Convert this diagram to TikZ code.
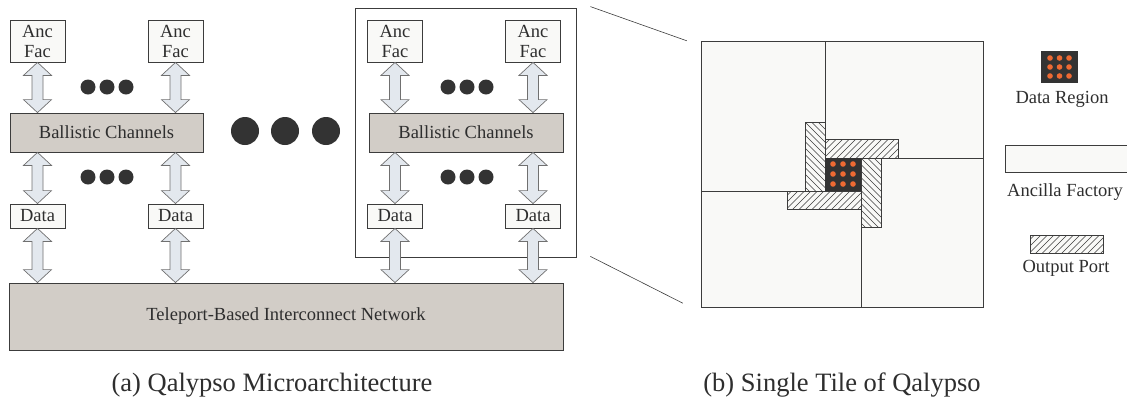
\documentclass[tikz,border=0pt]{standalone}
\usepackage{fontspec}
\setmainfont{Liberation Serif}
\usepackage{tikz}
\usetikzlibrary{calc, positioning}
\tikzset{>=stealth}

\definecolor{boxfill}{HTML}{F9F9F7}
\definecolor{boxline}{HTML}{3C3C3C}
\definecolor{chanfill}{HTML}{D2CDC7}
\definecolor{arrowfill}{HTML}{E3E8EE}
\definecolor{arrowline}{HTML}{707070}
\definecolor{dotcol}{HTML}{333333}
\definecolor{qubitcol}{HTML}{EE6A33}
\definecolor{txtcol}{HTML}{2E2E2E}

% wide two-headed arrow between two anchors (top, bottom)
\newcommand{\dblarrow}[2]{%
  \draw[blockarrow] let \p1=(#1), \p2=(#2) in
    (\x1,\y1) -- (\x1+14pt,\y1-13pt) -- (\x1+5.5pt,\y1-13pt)
    -- (\x1+5.5pt,\y2+13pt) -- (\x1+14pt,\y2+13pt) -- (\x1,\y2)
    -- (\x1-14pt,\y2+13pt) -- (\x1-5.5pt,\y2+13pt)
    -- (\x1-5.5pt,\y1-13pt) -- (\x1-14pt,\y1-13pt) -- cycle;}

% hatched output port: x1, y1, x2, y2, direction (1 = /, -1 = \)
\newcommand{\portbox}[5]{%
  \fill[boxfill] (#1,#2) rectangle (#3,#4);
  \begin{scope}
    \clip (#1,#2) rectangle (#3,#4);
    \foreach \k in {0,...,50}
      \draw[hatch] ({#1-130+6.5*\k},{(#2+#4)/2+#5*80}) -- ++(160,{-#5*160});
  \end{scope}
  \draw[factory, fill=none] (#1,#2) rectangle (#3,#4);}

\begin{document}
\begin{tikzpicture}[x=1pt, y=-1pt,
    label font/.style={font=\fontsize{18.5}{20}\selectfont, text=txtcol},
    unit/.style={label font, draw=boxline, fill=boxfill, line width=0.8pt,
        minimum width=55, inner sep=0, align=center},
    ancfac/.style={unit, minimum height=42},
    datablk/.style={unit, minimum height=24},
    channel/.style={unit, fill=chanfill},
    blockarrow/.style={draw=arrowline, fill=arrowfill, line width=0.7pt},
    factory/.style={draw=boxline, fill=boxfill, line width=0.8pt},
    hatch/.style={draw=boxline, line width=0.6pt},
    caption/.style={font=\fontsize{26.5}{28}\selectfont, text=txtcol}]
    \useasboundingbox (0,0) rectangle (1127,400);

    % (a) microarchitecture
    \node[draw=boxline, line width=0.8pt, minimum width=221, minimum height=249,
        inner sep=0] (group) at (465.5,132.5) {};

    \node[ancfac] (af1) at (37.5,41) {Anc\\Fac};
    \node[ancfac] (af2) at (175.5,41) {Anc\\Fac};
    \node[ancfac] (af3) at (395,41) {Anc\\Fac};
    \node[ancfac] (af4) at (533,41) {Anc\\Fac};

    \node[channel, minimum width=193, minimum height=39] (bc1) at (106.5,132.5) {Ballistic Channels};
    \node[channel, minimum width=194, minimum height=39] (bc2) at (466,132.5) {Ballistic Channels};

    \node[datablk] (d1) at (37.5,216) {Data};
    \node[datablk] (d2) at (175.5,216) {Data};
    \node[datablk] (d3) at (395,216) {Data};
    \node[datablk] (d4) at (533,216) {Data};

    \node[channel, minimum width=554, minimum height=67] (net) at (286,316.5)
        {Teleport-Based Interconnect Network};

    \foreach \i/\b in {1/bc1,2/bc1,3/bc2,4/bc2}
    {
        \dblarrow{af\i.south}{af\i.south |- \b.north}
        \dblarrow{d\i.north |- \b.south}{d\i.north}
        \dblarrow{d\i.south}{d\i.south |- net.north}
    }

    \foreach \x in {88,107,126,448,467,486}
    {
        \fill[dotcol](\x,87) circle (7.5pt);
        \fill[dotcol](\x,177) circle (7.5pt);
    }
    \foreach \x in {245,285,326}
    {
        \fill[dotcol](\x,131) circle (14pt);
    }

    \node[caption] (capa) at (272,385) {(a) Qalypso Microarchitecture};

    % (b) single tile
    \node[minimum width=282, minimum height=266, inner sep=0] (tile) at (842,174) {};
    \draw[factory] (701,41) rectangle (825,191);
    \draw[factory] (825,41) rectangle (983,158);
    \draw[factory] (861,158) rectangle (983,307);
    \draw[factory] (701,191) rectangle (861,307);
    \portbox{805}{122}{825}{191}{-1}
    \portbox{825}{139}{898}{158}{1}
    \portbox{787}{191}{861}{209}{1}
    \portbox{861}{158}{881}{227}{-1}
    \fill[dotcol] (825,158) rectangle (861,191);
    \foreach \x in {833,843,853}
        \foreach \y in {164,174,184}
            \fill[qubitcol] (\x,\y) circle (2.8pt);

    \draw[boxline, line width=0.6pt] ($(group.north east)+(14,-1)$) -- ($(tile.north west)+(-14,0)$);
    \draw[boxline, line width=0.6pt] ($(group.south east)+(14,-1)$) -- ($(tile.south west)+(-18,-4)$);

    % legend
    \fill[dotcol] (1041,51) rectangle (1078,83);
    \foreach \x in {1050,1059.5,1069}
        \foreach \y in {58,67,76}
            \fill[qubitcol] (\x,\y) circle (2.8pt);
    \node[label font] (lgdata) at (1062,99) {Data Region};
    \draw[factory] (1005,145) rectangle (1135,172);
    \node[label font] (lgfac) at (1065,192) {Ancilla Factory};
    \portbox{1030}{235}{1103}{253}{1}
    \node[label font] (lgport) at (1066,268) {Output Port};

    \node[caption] (capb) at (842,385) {(b) Single Tile of Qalypso};
\end{tikzpicture}
\end{document}
